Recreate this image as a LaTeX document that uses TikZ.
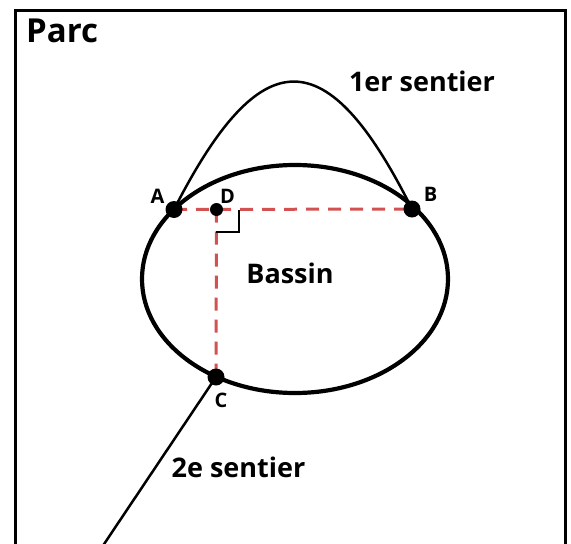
\documentclass[tikz,border=0pt]{standalone}
\usepackage{fontspec}
\setmainfont{Open Sans}
\usetikzlibrary{shapes.geometric}
\definecolor{dashred}{RGB}{210,82,82}
\tikzset{
  bigdot/.style={circle,fill=black,inner sep=0pt,minimum size=17pt},
  smalldot/.style={circle,fill=black,inner sep=0pt,minimum size=13pt},
  lbl/.style={anchor=base,inner sep=0pt,font=\bfseries\fontsize{20}{24}\selectfont},
  biglbl/.style={anchor=base,inner sep=0pt,font=\bfseries\fontsize{27}{31}\selectfont},
  redline/.style={draw=dashred,line width=3pt,dash pattern=on 13pt off 9pt},
  sentier/.style={draw=black,line width=2.5pt},
}
\begin{document}
\begin{tikzpicture}[x=1pt,y=-1pt]
\useasboundingbox (0,0) rectangle (571,544);
\clip (0,0) rectangle (571,544);
% frame
\draw[line width=3pt] (15.5,560) -- (15.5,10.5) -- (565.5,10.5) -- (565.5,560);
\node[anchor=base west,inner sep=0pt,font=\bfseries\fontsize{33}{38}\selectfont] (parc) at (26,42.5) {Parc};
% pond
\node[draw,ellipse,line width=4.2pt,minimum width=306pt,minimum height=228pt,inner sep=0pt] (bassin) at (295,279) {};
\node[biglbl] (bassinlbl) at (290,283) {Bassin};
% points
\coordinate (Ac) at (174,209.5);
\coordinate (Bc) at (412,209);
\coordinate (Cc) at (216,377);
\coordinate (Dc) at (216.5,209.5);
\coordinate (Eend) at (88,568);
% dashed
\draw[redline] (Ac) -- (Bc);
\draw[redline] (Dc) -- (Cc);
% right angle
\draw[line width=2.5pt,line cap=rect] (217,232) -- (239,232) -- (239,211);
% paths
\draw[sentier] (Ac) .. controls (261,39) and (327,39) .. (Bc);
\draw[sentier] (Cc) -- (Eend);
% dots
\node[bigdot] (A) at (Ac) {};
\node[bigdot] (B) at (Bc) {};
\node[bigdot] (C) at (Cc) {};
\node[smalldot] (D) at (Dc) {};
% labels
\node[lbl] (la) at (157.5,203) {A};
\node[lbl] (lb) at (430.5,201) {B};
\node[lbl] (lc) at (221,407) {C};
\node[lbl] (ld) at (227.5,203) {D};
\node[biglbl] (s1) at (422,91) {1er sentier};
\node[biglbl] (s2) at (238.5,477) {2e sentier};
\end{tikzpicture}
\end{document}
